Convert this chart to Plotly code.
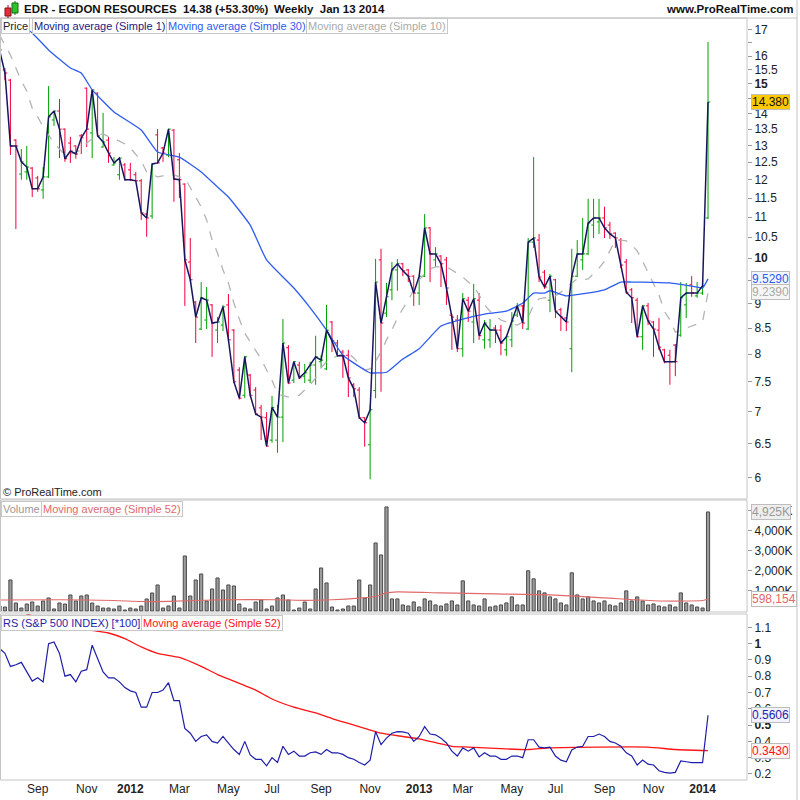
import math
import pandas as pd
import plotly.graph_objects as go

# ---------------- data (weekly bars, first = 2011-07-18, last = 2014-01-13) ----------------
dates = pd.date_range("2011-07-18", periods=131, freq="W-MON")

opens = [16.40, 15.49, 15.13, 13.16, 12.16, 12.22, 12.33, 12.05, 11.72, 12.08,
         13.79, 14.08, 13.50, 13.07, 12.98, 13.29, 14.85, 13.38, 14.68, 12.95,
         13.16, 12.42, 12.14, 12.42, 12.28, 12.14, 11.97, 11.08, 11.03, 13.32,
         12.92, 12.71, 13.47, 12.57, 11.88, 9.91, 9.03, 8.48, 8.66, 8.97,
         8.46, 8.56, 8.97, 8.46, 7.71, 7.27, 7.62, 7.36, 7.06, 6.90,
         6.55, 6.55, 6.91, 8.12, 7.53, 7.80, 7.60, 7.53, 7.80, 7.86,
         7.73, 8.62, 8.21, 8.04, 7.98, 7.45, 7.36, 6.90, 6.48, 7.35,
         9.96, 8.80, 9.29, 9.73, 9.87, 9.73, 9.59, 9.22, 9.59, 10.73,
         9.96, 10.05, 9.96, 8.76, 8.66, 8.10, 9.07, 8.62, 9.07, 8.27,
         8.27, 8.50, 8.46, 8.08, 8.27, 8.76, 8.95, 8.48, 10.38, 10.43,
         9.68, 9.07, 9.51, 8.87, 8.70, 8.10, 9.59, 9.96, 10.10, 10.80,
         10.88, 10.98, 10.80, 10.60, 10.43, 9.91, 9.29, 9.07, 8.33, 8.95,
         8.62, 8.46, 8.08, 7.98, 8.17, 8.36, 8.97, 9.40, 9.16, 9.22,
         10.98]
highs = [16.60, 15.56, 15.17, 13.19, 12.89, 12.98, 12.36, 12.11, 12.36, 14.92,
         14.08, 14.48, 13.52, 13.26, 13.00, 13.35, 14.87, 14.79, 14.70, 14.02,
         13.26, 12.65, 12.65, 12.48, 12.48, 12.22, 12.02, 11.11, 12.45, 13.50,
         12.95, 13.52, 13.50, 12.77, 11.90, 10.48, 9.05, 9.46, 9.35, 8.99,
         8.72, 8.97, 9.20, 8.48, 7.76, 7.97, 7.64, 7.41, 7.11, 6.99,
         7.26, 7.11, 8.68, 8.17, 7.87, 7.86, 7.82, 7.86, 8.35, 7.98,
         8.97, 8.64, 8.27, 8.08, 8.08, 7.48, 7.41, 6.91, 7.11, 9.98,
         10.22, 9.44, 9.91, 9.98, 9.89, 9.75, 9.61, 9.61, 11.08, 10.75,
         10.26, 10.07, 10.03, 8.78, 8.76, 9.22, 9.14, 9.42, 9.22, 8.66,
         8.68, 8.56, 8.56, 8.35, 8.82, 9.01, 8.97, 10.48, 12.65, 10.58,
         9.73, 9.64, 9.53, 8.91, 8.72, 10.22, 10.43, 10.98, 11.48, 11.48,
         11.48, 11.27, 10.88, 10.62, 10.48, 9.98, 9.33, 9.12, 8.97, 9.01,
         8.64, 8.70, 8.10, 8.08, 8.19, 9.46, 9.44, 9.59, 9.46, 9.51,
         16.53]
lows = [15.95, 15.13, 12.71, 10.70, 12.00, 12.00, 11.53, 11.67, 11.48, 12.05,
        13.60, 12.62, 12.51, 12.48, 12.60, 12.74, 12.95, 12.62, 13.26, 12.93,
        12.48, 12.40, 12.00, 11.98, 11.97, 11.95, 10.93, 10.51, 10.96, 12.46,
        12.51, 12.65, 11.40, 11.50, 8.95, 9.46, 8.21, 8.46, 8.48, 7.95,
        8.21, 8.44, 8.25, 7.48, 7.20, 7.22, 7.25, 6.94, 6.55, 6.45,
        6.51, 6.36, 6.52, 7.46, 7.48, 7.55, 7.48, 7.48, 7.45, 7.75,
        7.71, 8.04, 7.95, 7.57, 7.24, 7.24, 6.88, 6.45, 5.98, 7.22,
        7.33, 8.72, 9.07, 9.27, 9.59, 9.46, 8.95, 8.97, 9.57, 9.46,
        9.80, 9.35, 8.97, 8.08, 8.04, 7.95, 8.62, 8.21, 8.27, 8.10,
        8.12, 8.21, 7.98, 7.97, 8.13, 8.72, 8.48, 8.46, 10.24, 9.46,
        9.31, 8.82, 8.70, 8.44, 8.44, 7.67, 9.57, 9.73, 10.07, 10.48,
        10.58, 10.48, 10.46, 10.24, 9.77, 9.20, 8.60, 8.31, 8.08, 8.56,
        7.95, 8.08, 7.83, 7.45, 7.60, 8.33, 8.70, 9.14, 9.12, 9.18,
        10.95]
closes = [16.23, 15.38, 12.98, 12.98, 12.51, 12.36, 11.75, 11.75, 12.08, 13.89,
          14.08, 13.50, 12.60, 12.83, 12.74, 13.23, 13.50, 14.79, 13.29, 13.10,
          12.77, 12.48, 12.62, 12.00, 12.00, 11.97, 11.11, 10.98, 12.45, 12.48,
          12.77, 13.50, 12.02, 12.00, 9.96, 9.51, 8.72, 9.12, 9.07, 8.60,
          8.62, 8.93, 8.27, 7.50, 7.22, 7.95, 7.27, 6.96, 6.91, 6.46,
          7.07, 6.91, 8.21, 7.48, 7.86, 7.57, 7.66, 7.80, 7.95, 7.89,
          8.46, 8.25, 7.97, 7.97, 7.57, 7.38, 6.90, 6.82, 7.03, 9.46,
          8.60, 9.14, 9.73, 9.87, 9.71, 9.59, 9.22, 9.59, 10.73, 10.10,
          10.10, 9.87, 9.33, 8.72, 8.10, 9.10, 8.84, 9.10, 8.35, 8.60,
          8.46, 8.46, 8.21, 8.33, 8.64, 8.95, 8.60, 10.38, 10.48, 9.57,
          9.35, 9.59, 8.84, 8.72, 8.62, 9.59, 10.10, 10.10, 10.85, 10.98,
          10.98, 10.73, 10.58, 10.48, 9.84, 9.24, 9.12, 8.33, 8.95, 8.64,
          8.48, 8.13, 7.86, 7.86, 7.86, 9.12, 9.22, 9.22, 9.22, 9.38,
          14.38]

# moving averages (bar index k, 0 = 2011-07-25)
ma30_k = [-1, 0, 3, 5, 8, 12, 14, 16, 20, 25, 28, 32, 36, 39, 41, 45, 48, 53, 56, 59,
          62, 66, 67, 70, 73, 76, 80, 84, 88, 92, 95, 97, 99, 100, 103, 110, 113, 115,
          117, 122, 127, 128, 129]
ma30_v = [18.0, 17.8, 17.2, 16.88, 16.23, 15.56, 15.38, 14.79, 14.05, 13.47, 12.80, 12.65,
          12.22, 11.80, 11.53, 10.80, 9.96, 9.33, 8.91, 8.46, 7.98, 7.71, 7.66, 7.67, 7.91,
          8.10, 8.54, 8.68, 8.78, 8.84, 9.01, 9.22, 9.22, 9.27, 9.16, 9.29, 9.46, 9.46,
          9.46, 9.44, 9.35, 9.33, 9.529]

ma10_v = [16.80, 16.42, 16.04, 15.56, 15.10, 14.75, 14.17, 13.89, 13.57, 13.32,
          13.07, 12.89, 12.71, 12.74, 12.80, 12.86, 13.07, 13.19, 13.32, 13.35,
          13.26, 13.19, 13.13, 13.04, 12.92, 12.74, 12.54, 12.22, 12.14, 12.08,
          12.11, 12.14, 12.14, 12.08, 12.05, 11.77, 11.50, 11.27, 10.93, 10.43,
          10.12, 9.73, 9.44, 9.01, 8.68, 8.40, 8.23, 8.08, 7.91, 7.71,
          7.53, 7.29, 7.26, 7.24, 7.26, 7.27, 7.36, 7.45, 7.57, 7.75,
          7.86, 7.91, 7.97, 8.00, 8.02, 7.93, 7.82, 7.71, 7.73, 7.87,
          8.04, 8.27, 8.46, 8.70, 8.89, 9.07, 9.29, 9.51, 9.64, 9.75,
          9.80, 9.80, 9.80, 9.73, 9.64, 9.57, 9.46, 9.37, 9.18, 8.97,
          8.84, 8.74, 8.66, 8.62, 8.58, 8.56, 8.62, 8.72, 8.97, 9.10,
          9.12, 9.14, 9.16, 9.24, 9.35, 9.44, 9.53, 9.51, 9.53, 9.64,
          9.77, 9.93, 10.19, 10.43, 10.43, 10.41, 10.31, 10.17, 9.93, 9.68,
          9.40, 9.18, 8.84, 8.66, 8.42, 8.46, 8.50, 8.54, 8.58, 8.62,
          9.239]

volume_k = [250, 199, 1542, 398, 149, 348, 448, 249, 498, 647,
            100, 398, 348, 796, 498, 746, 796, 398, 249, 149,
            149, 100, 249, 50, 149, 100, 249, 597, 896, 1294,
            149, 249, 746, 149, 2736, 746, 1542, 1841, 498, 1095,
            1642, 1045, 1294, 1244, 348, 149, 100, 448, 547, 100,
            249, 647, 796, 547, 50, 149, 448, 100, 1095, 2139,
            1393, 199, 50, 100, 249, 249, 1542, 647, 1294, 3383,
            2786, 5174, 600, 600, 300, 250, 450, 200, 600, 500,
            300, 250, 350, 500, 300, 1500, 500, 300, 250, 600,
            200, 250, 300, 400, 700, 300, 300, 2000, 1600, 1000,
            900, 700, 600, 400, 300, 1900, 800, 600, 700, 500,
            400, 500, 300, 250, 400, 1000, 500, 700, 500, 300,
            350, 250, 200, 300, 200, 900, 400, 300, 200, 150,
            4925]
vol_ma_k = [-1, 10, 20, 25, 30, 40, 50, 55, 60, 65, 68, 70, 72, 80, 90, 100, 110, 120, 128, 129]
vol_ma_v = [550, 560, 520, 470, 480, 560, 560, 530, 560, 640, 720, 900, 950, 900, 850, 800,
            650, 500, 520, 598.154]

rs = [0.97, 0.94, 0.86, 0.87, 0.885, 0.83, 0.77, 0.79, 0.765, 1.00,
      1.01, 0.94, 0.80, 0.81, 0.765, 0.83, 0.84, 0.99, 0.91, 0.826,
      0.79, 0.79, 0.765, 0.73, 0.71, 0.70, 0.61, 0.61, 0.70, 0.70,
      0.715, 0.76, 0.65, 0.65, 0.48, 0.45, 0.40, 0.43, 0.44, 0.40,
      0.39, 0.43, 0.39, 0.35, 0.32, 0.40, 0.317, 0.29, 0.29, 0.25,
      0.30, 0.27, 0.37, 0.32, 0.34, 0.31, 0.31, 0.33, 0.335, 0.32,
      0.35, 0.33, 0.33, 0.32, 0.30, 0.29, 0.27, 0.255, 0.285, 0.46,
      0.38, 0.42, 0.45, 0.46, 0.458, 0.45, 0.40, 0.43, 0.49, 0.445,
      0.44, 0.42, 0.39, 0.34, 0.31, 0.36, 0.34, 0.36, 0.305, 0.33,
      0.31, 0.31, 0.29, 0.29, 0.31, 0.31, 0.30, 0.41, 0.41, 0.365,
      0.36, 0.365, 0.31, 0.285, 0.275, 0.347, 0.365, 0.37, 0.43, 0.43,
      0.445, 0.43, 0.40, 0.39, 0.37, 0.33, 0.31, 0.255, 0.285, 0.26,
      0.255, 0.22, 0.21, 0.205, 0.21, 0.28, 0.275, 0.27, 0.27, 0.27,
      0.5606]
rs_ma_k = [-1, 5, 13, 19, 22, 25, 28, 32, 36, 39, 42, 46, 49, 53, 57, 60, 63, 66, 69, 73,
           76, 78, 82, 85, 91, 96, 100, 109, 118, 123, 129]
rs_ma_v = [1.25, 1.17, 1.096, 1.065, 1.03, 0.98, 0.94, 0.915, 0.86, 0.81, 0.77, 0.715, 0.66,
           0.61, 0.575, 0.54, 0.51, 0.48, 0.45, 0.43, 0.415, 0.40, 0.37, 0.365, 0.355, 0.35,
           0.36, 0.365, 0.365, 0.35, 0.343]

x_tick_dates = ["2011-09-05", "2011-11-07", "2012-01-02", "2012-03-05", "2012-05-07",
                "2012-07-02", "2012-09-03", "2012-11-05", "2013-01-07", "2013-03-04",
                "2013-05-06", "2013-07-01", "2013-09-02", "2013-11-04", "2014-01-06"]
x_tick_text = ["Sep", "Nov", "<b>2012</b>", "Mar", "May", "Jul", "Sep", "Nov",
               "<b>2013</b>", "Mar", "May", "Jul", "Sep", "Nov", "<b>2014</b>"]
price_ticks = [6, 6.5, 7, 7.5, 8, 8.5, 9, 9.5, 10, 10.5, 11, 11.5, 12, 12.5, 13, 13.5,
               14, 14.5, 15, 15.5, 16, 16.5, 17]
price_tick_text = ["6", "6.5", "7", "7.5", "8", "8.5", "9", "", "<b>10</b>", "10.5", "11",
                   "11.5", "12", "12.5", "13", "13.5", "14", "14.5", "<b>15</b>", "15.5", "16",
                   "", "17"]
vol_ticks = [1000, 2000, 3000, 4000, 5000]
vol_tick_text = ["1,000K", "2,000K", "3,000K", "4,000K", "5,000K"]
rs_ticks = [0.2, 0.3, 0.4, 0.5, 0.6, 0.7, 0.8, 0.9, 1.0, 1.1]
rs_tick_text = ["0.2", "0.3", "0.4", "<b>0.5</b>", "0.6", "0.7", "0.8", "0.9", "<b>1</b>", "1.1"]

# ---------------- figure ----------------
W = H = 800.0
def px(x):
    return x / W
def py(y):
    return 1 - y / H

def kdate(klist):
    return [dates[k + 1] for k in klist]

FONT = "Liberation Sans, Arial, sans-serif"
GREEN = "#00a000"
RED = "#f2003c"

fig = go.Figure()

fig.add_trace(go.Ohlc(x=dates, open=opens, high=highs, low=lows, close=closes,
                      increasing=dict(line=dict(color=GREEN, width=1)),
                      decreasing=dict(line=dict(color=RED, width=1)),
                      tickwidth=0.42, xaxis="x", yaxis="y", hoverinfo="skip"))
fig.add_trace(go.Scatter(x=dates, y=ma10_v, mode="lines", xaxis="x", yaxis="y",
                         line=dict(color="#b4b4b4", width=1.3, dash="dash")))
fig.add_trace(go.Scatter(x=kdate(ma30_k), y=ma30_v, mode="lines", xaxis="x", yaxis="y",
                         line=dict(color="#2d5cf0", width=1.3, shape="spline", smoothing=0.4)))
fig.add_trace(go.Scatter(x=dates, y=closes, mode="lines", xaxis="x", yaxis="y",
                         line=dict(color="#16165e", width=1.5)))

fig.add_trace(go.Bar(x=dates, y=volume_k, xaxis="x", yaxis="y2",
                     marker=dict(color="#9c9c9c", line=dict(color="#4a4a4a", width=1))))
fig.add_trace(go.Scatter(x=kdate(vol_ma_k), y=vol_ma_v, mode="lines", xaxis="x", yaxis="y2",
                         line=dict(color="#e06a6a", width=1.1, shape="spline", smoothing=0.6)))

fig.add_trace(go.Scatter(x=kdate(rs_ma_k), y=rs_ma_v, mode="lines", xaxis="x", yaxis="y3",
                         line=dict(color="#ff1414", width=1.3, shape="spline", smoothing=0.4)))
fig.add_trace(go.Scatter(x=dates, y=rs, mode="lines", xaxis="x", yaxis="y3",
                         line=dict(color="#1e1eaa", width=1.2)))

x_left = dates[0] + pd.Timedelta(days=0.6)
x_right = dates[0] + pd.Timedelta(days=7 * 137.15)

tickfont = dict(family=FONT, size=12, color="#222222")
yaxis_common = dict(side="right", anchor="x", showgrid=False, zeroline=False,
                    ticks="outside", ticklen=4, tickcolor="#999999", tickfont=tickfont,
                    showline=False)

fig.update_layout(
    width=800, height=800, margin=dict(l=0, r=0, t=0, b=0),
    paper_bgcolor="white", plot_bgcolor="white", showlegend=False,
    bargap=0.42,
    xaxis=dict(domain=[0, px(747)], anchor="y3", type="date", range=[x_left, x_right],
               tickvals=x_tick_dates, ticktext=x_tick_text, showgrid=False, zeroline=False,
               rangeslider=dict(visible=False), ticks="", tickfont=tickfont, showline=False),
    yaxis=dict(domain=[py(499), py(18)], type="log",
               range=[math.log10(5.712), math.log10(17.48)],
               tickvals=price_ticks, ticktext=price_tick_text, **yaxis_common),
    yaxis2=dict(domain=[py(612), py(500)], range=[-50, 5520],
                tickvals=vol_ticks, ticktext=vol_tick_text, **yaxis_common),
    yaxis3=dict(domain=[py(780), py(614)], range=[0.163, 1.1816],
                tickvals=rs_ticks, ticktext=rs_tick_text, **yaxis_common),
)

shapes = []
frame = "#c4c4c4"
for (t, b) in [(18, 499), (500, 612), (614, 780)]:
    shapes.append(dict(type="rect", xref="paper", yref="paper", x0=px(0.5), x1=px(747),
                       y0=py(b), y1=py(t), line=dict(color=frame, width=1)))
shapes.append(dict(type="line", xref="paper", yref="paper", x0=0, x1=px(797), y0=py(18), y1=py(18),
                   line=dict(color=frame, width=1)))
shapes.append(dict(type="line", xref="paper", yref="paper", x0=px(797), x1=px(797), y0=0, y1=1,
                   line=dict(color=frame, width=1)))
# header icon (small candles)
shapes += [
    dict(type="line", xref="paper", yref="paper", x0=px(8), x1=px(8), y0=py(18), y1=py(5),
         line=dict(color="#a01020", width=1)),
    dict(type="rect", xref="paper", yref="paper", x0=px(5), x1=px(11), y0=py(16), y1=py(8),
         fillcolor="#e03040", line=dict(color="#801010", width=1)),
    dict(type="line", xref="paper", yref="paper", x0=px(15), x1=px(15), y0=py(15), y1=py(1),
         line=dict(color="#107010", width=1)),
    dict(type="rect", xref="paper", yref="paper", x0=px(12), x1=px(18), y0=py(13), y1=py(3),
         fillcolor="#30c030", line=dict(color="#107010", width=1)),
]
fig.update_layout(shapes=shapes)

ann = []
def text(x, y, s, size=11.5, color="#111111", bold=False, xanchor="left"):
    ann.append(dict(xref="paper", yref="paper", x=px(x), y=py(y), text=(f"<b>{s}</b>" if bold else s),
                    showarrow=False, xanchor=xanchor, yanchor="middle", borderpad=0,
                    font=dict(family=FONT, size=size, color=color)))

text(23, 9, "EDR - EGDON RESOURCES", bold=True)
text(182, 9, "14.38 (+53.30%)", bold=True)
text(273, 9, "Weekly  Jan 13 2014", bold=True)
text(795, 9, "www.ProRealTime.com", bold=True, xanchor="right")
text(2, 492, "© ProRealTime.com", size=11, color="#222222")

def legbox(x, y, s, color):
    ann.append(dict(xref="paper", yref="paper", x=px(x), y=py(y), text=s, showarrow=False,
                    xanchor="left", yanchor="top", align="left",
                    bgcolor="white", bordercolor="#c8c8c8", borderwidth=1, borderpad=1,
                    font=dict(family=FONT, size=11, color=color)))

legbox(0.5, 18.5, "Price", "#222222")
legbox(32, 18.5, "Moving average (Simple 1)", "#1a1a80")
legbox(166, 18.5, "Moving average (Simple 30)", "#2d5cf0")
legbox(306, 18.5, "Moving average (Simple 10)", "#aaaaaa")
legbox(0.5, 500.5, "Volume", "#999999")
legbox(41, 500.5, "Moving average (Simple 52)", "#e06a6a")
legbox(0.5, 614.5, "RS (S&P 500 INDEX) [*100]", "#1e1eaa")
legbox(141, 614.5, "Moving average (Simple 52)", "#ff1414")

def valbox(yref, yval, s, color, bg, border="#bdbdbd"):
    ann.append(dict(xref="paper", yref=yref, x=px(751), y=yval, text=s, showarrow=False,
                    xanchor="left", yanchor="middle", bgcolor=bg, bordercolor=border,
                    borderwidth=1, borderpad=0, font=dict(family=FONT, size=12, color=color)))

valbox("y", math.log10(closes[-1]), "14.380", "#111111", "#ffc800")
valbox("y", math.log10(ma30_v[-1]), "9.5290", "#2d5cf0", "#f4f6ff")
valbox("y", math.log10(ma10_v[-1]), "9.2390", "#aaaaaa", "#f6f6f6")
valbox("y2", volume_k[-1], "4,925K", "#999999", "#eeeeee")
valbox("y2", vol_ma_v[-1], "598,154", "#e06a6a", "#ffffff")
valbox("y3", rs[-1], "0.5606", "#1e1eaa", "#f2f2ff")
valbox("y3", rs_ma_v[-1], "0.3430", "#ff1414", "#fff4f4")

fig.update_layout(annotations=ann)
fig.write_html("out.html",
               config={"displayModeBar": False, "staticPlot": True},
               post_script="document.body.style.margin='0px';document.body.style.padding='0px';"
                           "document.body.style.overflow='hidden';")
